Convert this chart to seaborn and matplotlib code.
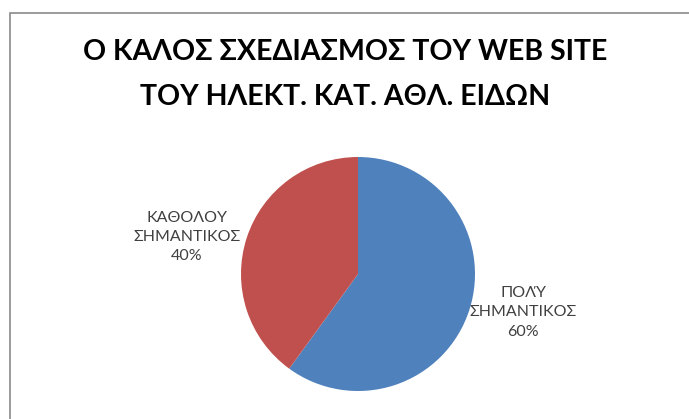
import matplotlib
matplotlib.use("Agg")
import matplotlib.pyplot as plt
import seaborn as sns
from matplotlib.patches import Rectangle

sns.set_theme(style="white")
plt.rcParams["font.family"] = ["Lato", "DejaVu Sans"]

title_lines = ["Ο ΚΑΛΟΣ ΣΧΕΔΙΑΣΜΟΣ ΤΟΥ WEB SITE", "ΤΟΥ ΗΛΕΚΤ. ΚΑΤ. ΑΘΛ. ΕΙΔΩΝ"]
categories = ["ΠΟΛΎ\nΣΗΜΑΝΤΙΚΟΣ", "ΚΑΘΟΛΟΥ\nΣΗΜΑΝΤΙΚΟΣ"]
shares = [60, 40]
colors = ["#4F81BD", "#C0504D"]

W, H = 689, 419
fig = plt.figure(figsize=(W / 100, H / 100), dpi=100)
fig.patch.set_facecolor("white")

# chart area frame
fig.patches.append(Rectangle((10 / W, -0.1), 1.2, 1.1 - 13 / H, transform=fig.transFigure,
                             fill=False, edgecolor="#8a8a8a", linewidth=1.2))

# pie axes
cx, cy, r = 358, 274, 117
ax = fig.add_axes([(cx - r) / W, (H - cy - r) / H, 2 * r / W, 2 * r / H])
wedges, _ = ax.pie(shares, colors=colors, startangle=90, counterclock=False,
                   radius=1, wedgeprops=dict(linewidth=0))
ax.set_xlim(-1, 1)
ax.set_ylim(-1, 1)
ax.set_aspect("equal")
ax.axis("off")

# data labels
label_pos = [(523, 312), (187, 237)]
for cat, val, (lx, ly) in zip(categories, shares, label_pos):
    fig.text(lx / W, 1 - ly / H, f"{cat}\n{val}%", ha="center", va="center",
             fontsize=11.5, color="#404040", linespacing=1.5)

for line, ty in zip(title_lines, (52, 97)):
    fig.text(345 / W, 1 - ty / H, line, ha="center", va="center",
             fontsize=20.5, fontweight="bold", color="black")

fig.savefig("out.png", dpi=100, facecolor="white")
